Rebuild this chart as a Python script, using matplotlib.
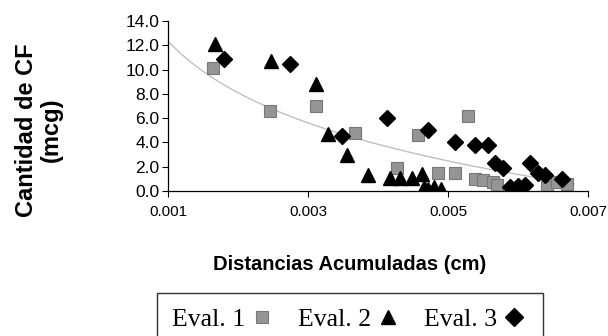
import matplotlib
matplotlib.use("Agg")
import matplotlib.pyplot as plt
import numpy as np

# Eval. 1 (squares)
eval1_x = [0.00164, 0.00246, 0.00311, 0.00367, 0.00427, 0.00457, 0.00486, 0.00510,
           0.00529, 0.00539, 0.00550, 0.00564, 0.00570, 0.00641, 0.00656, 0.00670]
eval1_y = [10.1, 6.6, 7.0, 4.8, 1.9, 4.6, 1.5, 1.5,
           6.2, 1.0, 0.9, 0.75, 0.5, 0.3, 0.75, 0.6]

# Eval. 2 (triangles)
eval2_x = [0.00167, 0.00247, 0.00311, 0.00329, 0.00356, 0.00386, 0.00417, 0.00431,
           0.00449, 0.00463, 0.00465, 0.00472, 0.00480, 0.00490]
eval2_y = [12.1, 10.7, 8.8, 4.7, 3.0, 1.3, 1.1, 1.1,
           1.1, 1.4, 0.3, 0.2, 0.3, 0.2]

# Eval. 3 (diamonds)
eval3_x = [0.00180, 0.00274, 0.00349, 0.00413, 0.00471, 0.00510, 0.00539, 0.00557,
           0.00567, 0.00579, 0.00589, 0.00600, 0.00610, 0.00617, 0.00629, 0.00639, 0.00663]
eval3_y = [10.9, 10.5, 4.5, 6.0, 5.0, 4.0, 3.8, 3.8,
           2.3, 1.9, 0.3, 0.4, 0.5, 2.3, 1.5, 1.3, 1.0]

# logarithmic trend line y = a + b*ln(x)
trend_a = -30.0
trend_b = -6.13
trend_range = [0.00100, 0.00680]

x_ticks = [0.001, 0.003, 0.005, 0.007]
x_tick_labels = ["0.001", "0.003", "0.005", "0.007"]
y_ticks = [0, 2, 4, 6, 8, 10, 12, 14]

plt.rcParams["font.family"] = ["Liberation Sans", "DejaVu Sans"]

fig = plt.figure(figsize=(6.08, 3.36), dpi=100)
ax = fig.add_axes([168 / 608, 145 / 336, 420 / 608, 170 / 336])

tx = np.linspace(trend_range[0], trend_range[1], 200)
ax.plot(tx, trend_a + trend_b * np.log(tx), color="#c0c0c0", lw=1.0, zorder=1)

sq, = ax.plot(eval1_x, eval1_y, ls="none", marker="s", ms=8,
              mfc="#959595", mec="#777777", mew=0.8, zorder=2)
tri, = ax.plot(eval2_x, eval2_y, ls="none", marker="^", ms=9.5,
               mfc="black", mec="black", zorder=3)
dia, = ax.plot(eval3_x, eval3_y, ls="none", marker="D", ms=8,
               mfc="black", mec="black", zorder=3)

ax.set_xlim(0.001, 0.007)
ax.set_ylim(0, 14)
ax.set_xticks(x_ticks)
ax.set_xticklabels(x_tick_labels)
ax.set_yticks(y_ticks)
ax.set_yticklabels([f"{v:.1f}" for v in y_ticks])
ax.tick_params(axis="y", labelsize=12.5, length=4, width=0.8, pad=2)
ax.tick_params(axis="x", labelsize=11, length=4, width=0.8, pad=6)
for s in ["top", "right"]:
    ax.spines[s].set_visible(False)
for s in ["left", "bottom"]:
    ax.spines[s].set_linewidth(0.9)

fig.text(39 / 608, 1 - 130 / 336, "Cantidad de CF\n(mcg)", rotation=90,
         ha="center", va="center", fontsize=17, fontweight="bold",
         linespacing=1.1)
fig.text(350 / 608, 1 - 265 / 336, "Distancias Acumuladas (cm)",
         ha="center", va="center", fontsize=14.5, fontweight="bold")

leg = fig.legend([sq, tri, dia], ["Eval. 1", "Eval. 2", "Eval. 3"],
                 loc="upper left", bbox_to_anchor=(157 / 608, 1 - 293 / 336),
                 ncol=3, markerfirst=False, frameon=True, fancybox=False,
                 prop={"family": ["Liberation Serif"], "size": 18.5},
                 markerscale=1.1, handlelength=1.1, handletextpad=0.1,
                 columnspacing=0.85, borderpad=0.6, borderaxespad=0)
leg.get_frame().set_edgecolor("black")
leg.get_frame().set_linewidth(1.0)

fig.savefig("out.png", dpi=100)
